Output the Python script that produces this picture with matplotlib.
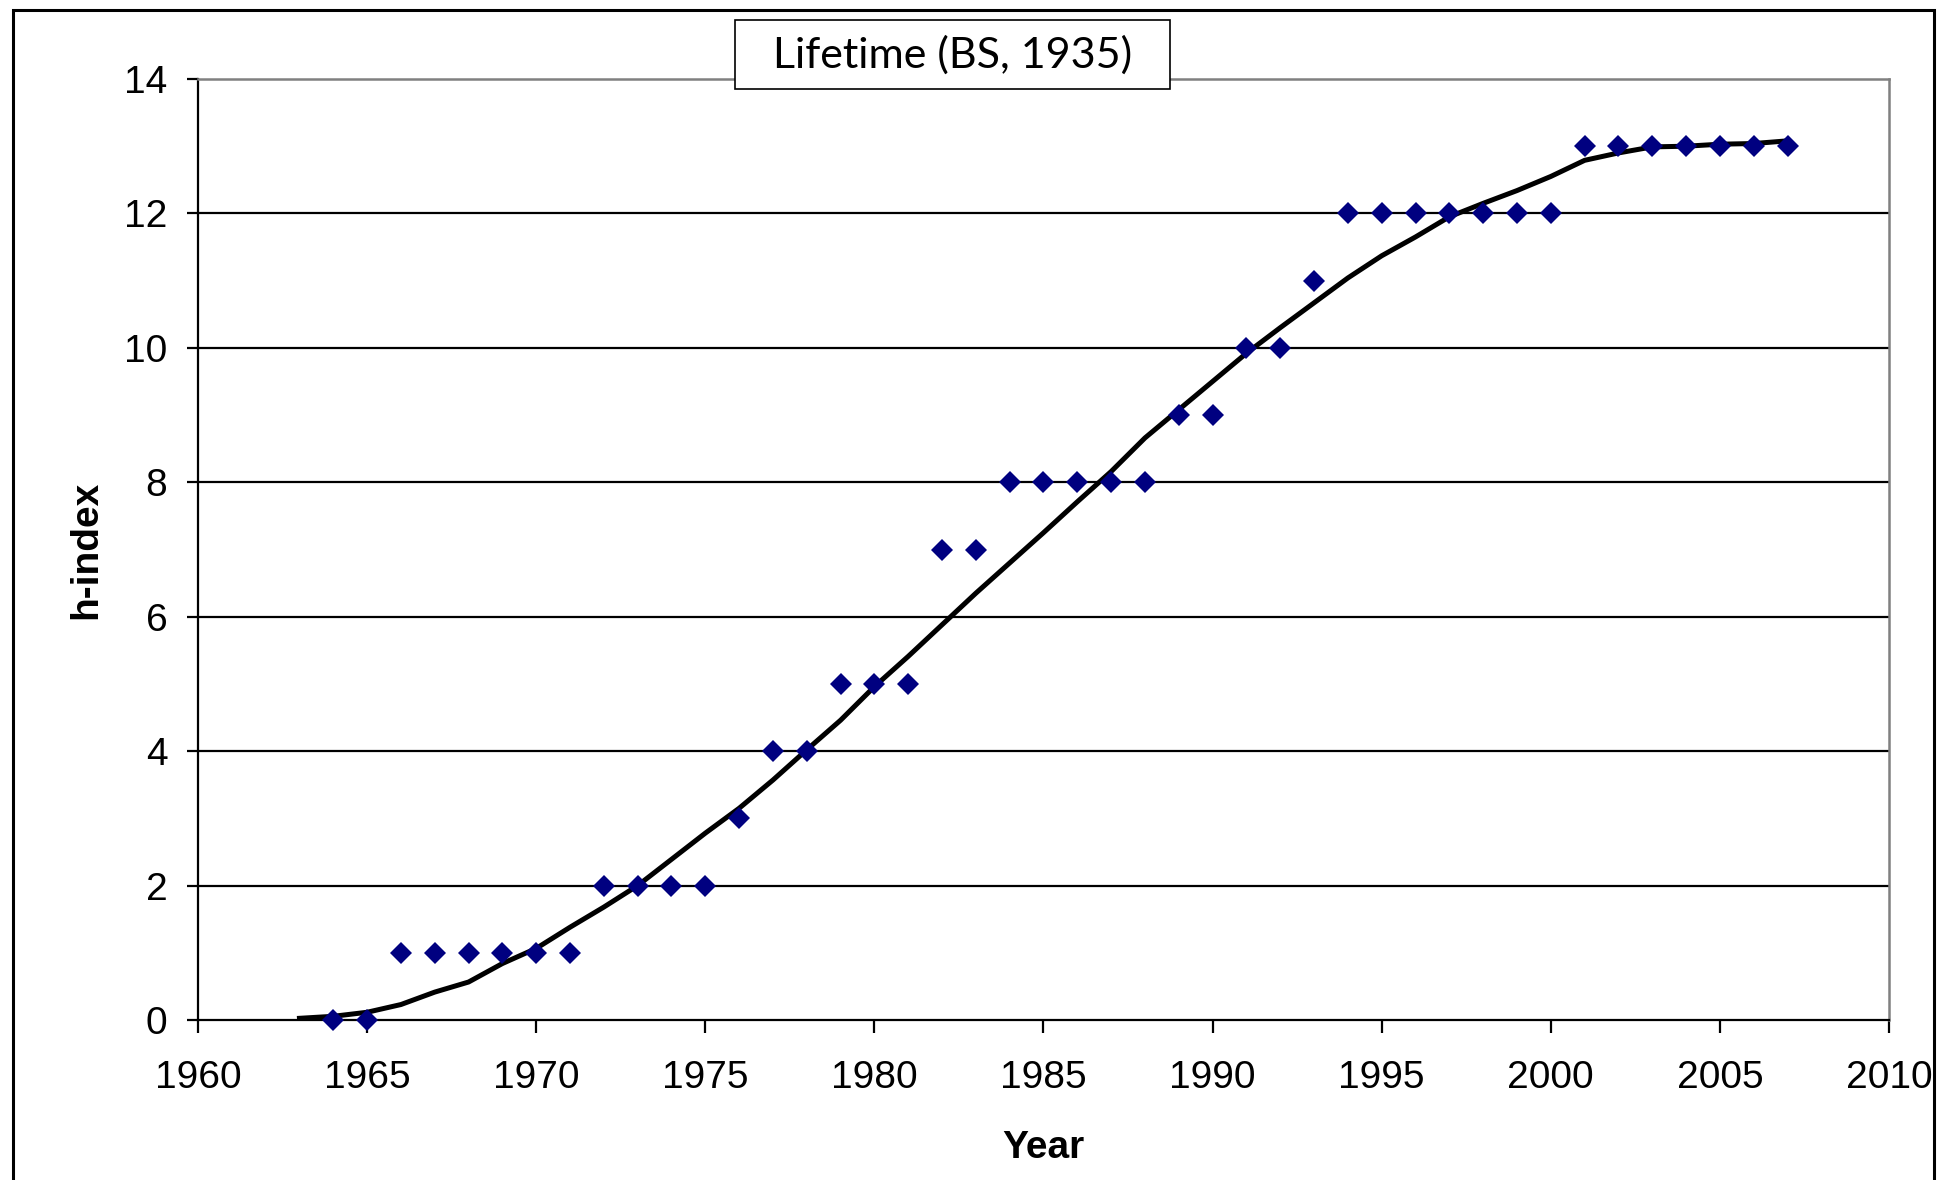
import matplotlib
matplotlib.use('Agg')
from matplotlib import pyplot as plt
from matplotlib.patches import Rectangle

# data
years = [1964, 1965, 1966, 1967, 1968, 1969, 1970, 1971, 1972, 1973, 1974,
         1975, 1976, 1977, 1978, 1979, 1980, 1981, 1982, 1983, 1984, 1985,
         1986, 1987, 1988, 1989, 1990, 1991, 1992, 1993, 1994, 1995, 1996,
         1997, 1998, 1999, 2000, 2001, 2002, 2003, 2004, 2005, 2006, 2007]
h_index = [0, 0, 1, 1, 1, 1, 1, 1, 2, 2, 2,
           2, 3, 4, 4, 5, 5, 5, 7, 7, 8, 8,
           8, 8, 8, 9, 9, 10, 10, 11, 12, 12, 12,
           12, 12, 12, 12, 13, 13, 13, 13, 13, 13, 13]

# fitted curve
fit_years = [1963, 1964, 1965, 1966, 1967, 1968, 1969, 1970, 1971, 1972, 1973,
             1974, 1975, 1976, 1977, 1978, 1979, 1980, 1981, 1982, 1983, 1984,
             1985, 1986, 1987, 1988, 1989, 1990, 1991, 1992, 1993, 1994, 1995,
             1996, 1997, 1998, 1999, 2000, 2001, 2002, 2003, 2004, 2005, 2006, 2007]
fit_values = [0.025, 0.055, 0.115, 0.23, 0.415, 0.565, 0.84, 1.065, 1.38, 1.68, 2.0,
              2.39, 2.78, 3.15, 3.57, 4.02, 4.46, 4.96, 5.41, 5.88, 6.35, 6.8,
              7.25, 7.71, 8.16, 8.66, 9.08, 9.5, 9.92, 10.3, 10.67, 11.04, 11.37,
              11.65, 11.95, 12.15, 12.34, 12.55, 12.79, 12.9, 12.99, 13.0, 13.03, 13.04, 13.08]

x_ticks = [1960, 1965, 1970, 1975, 1980, 1985, 1990, 1995, 2000, 2005, 2010]
y_ticks = [0, 2, 4, 6, 8, 10, 12, 14]
title = 'Lifetime (BS, 1935)'

plt.rcParams['font.family'] = 'Liberation Sans'

W, H = 1941, 1180
fig = plt.figure(figsize=(W / 100, H / 100), dpi=100)
ax = fig.add_axes([198 / W, 1 - 1020 / H, (1889 - 198) / W, (1020 - 79) / H])

# grid lines
for y in y_ticks[1:-1]:
    ax.axhline(y, color='black', lw=1.6, zorder=1)

ax.plot(fit_years, fit_values, color='black', lw=3.6, zorder=3, solid_joinstyle='round')
ax.plot(years, h_index, linestyle='none', marker='D', ms=11, color='#000080',
        markeredgewidth=0, zorder=4, clip_on=False)

ax.set_xlim(1960, 2010)
ax.set_ylim(0, 14)
ax.set_xticks(x_ticks)
ax.set_yticks(y_ticks)
ax.tick_params(axis='x', labelsize=28, length=9, width=1.6, pad=20, direction='out')
ax.tick_params(axis='y', labelsize=28, length=8, width=1.6, pad=14, direction='out')

for side in ['left', 'bottom']:
    ax.spines[side].set_color('black')
    ax.spines[side].set_linewidth(1.6)
for side in ['top', 'right']:
    ax.spines[side].set_color('#808080')
    ax.spines[side].set_linewidth(1.8)

fig.text(1043.5 / W, 1 - 1158 / H, 'Year', ha='center', va='baseline',
         fontsize=28, fontweight='bold')
fig.text(86 / W, 1 - 549.5 / H, 'h-index', ha='center', va='center',
         rotation=90, fontsize=28, fontweight='bold')

# title box
fig.patches.append(Rectangle((735 / W, 1 - 89 / H), (1170 - 735) / W, (89 - 20) / H,
                             transform=fig.transFigure, facecolor='white',
                             edgecolor='black', lw=1.2, zorder=5))
fig.text(952.5 / W, 1 - 55 / H, title, ha='center', va='center', fontsize=31,
         family=['Lato', 'DejaVu Sans'], zorder=6)

# outer frame
fig.patches.append(Rectangle((13 / W, -0.1), (1934 - 13) / W, 1.1 - 10 / H,
                             transform=fig.transFigure, facecolor='none',
                             edgecolor='black', lw=2.2, zorder=7))

plt.savefig('out.png', dpi=100)
